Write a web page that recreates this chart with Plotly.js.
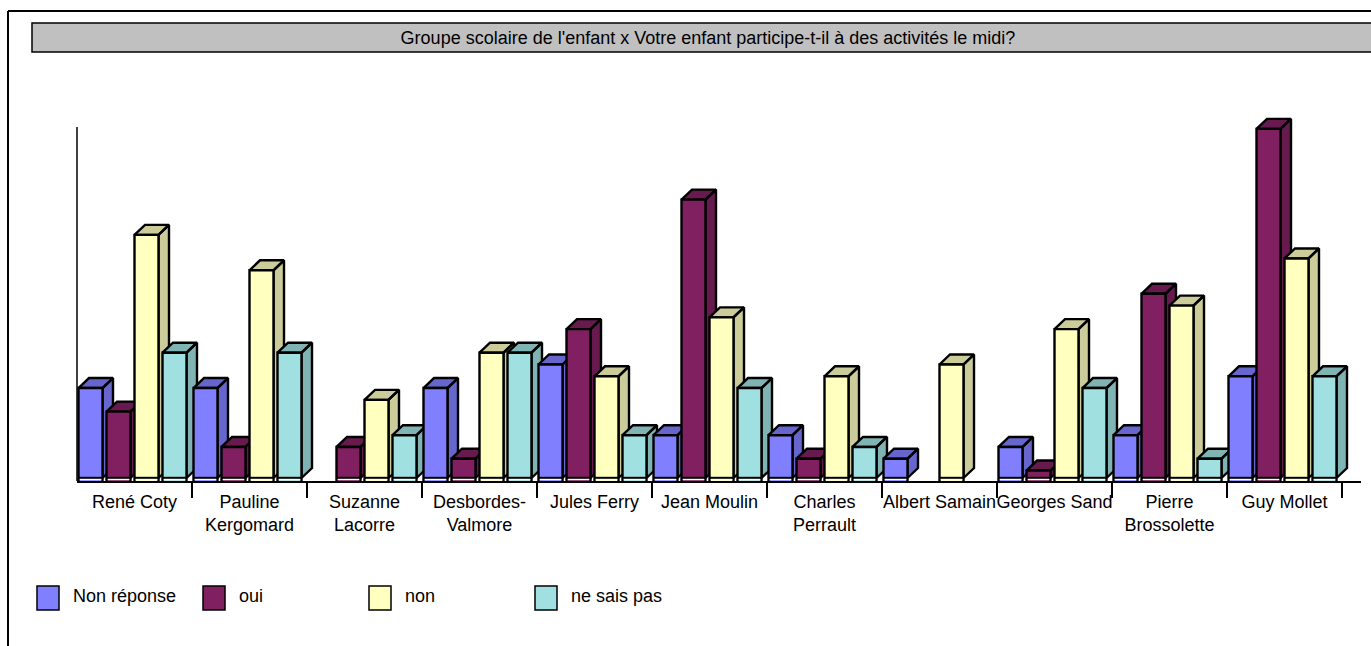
<!DOCTYPE html>
<html>
<head>
<meta charset="utf-8">
<script src="https://cdn.plot.ly/plotly-3.0.1.min.js"></script>
<style>html,body{margin:0;padding:0;background:#fff;overflow:hidden}#chart{width:1371px;height:646px}</style>
</head>
<body>
<div id="chart"></div>
<script>
var categories = ["René Coty","Pauline<br>Kergomard","Suzanne<br>Lacorre","Desbordes-<br>Valmore","Jules Ferry","Jean Moulin","Charles<br>Perrault","Albert Samain","Georges Sand","Pierre<br>Brossolette","Guy Mollet"];
var nonReponse = [8,8,null,8,10,4,4,2,3,4,9];
var oui = [6,3,3,2,13,24,2,null,1,16,30];
var non = [21,18,7,11,9,14,9,10,13,15,19];
var neSaisPas = [11,11,4,11,4,8,3,null,8,2,9];
var seriesNames = ["Non réponse","oui","non","ne sais pas"];
var seriesValues = [nonReponse,oui,non,neSaisPas];
var frontColors = ["#8080FF","#802060","#FFFFC0","#A0E0E0"];
var sideColors = ["#6666CC","#661A4D","#CCCC9A","#80B3B3"];
var titleText = "Groupe scolaire de l'enfant x Votre enfant participe-t-il à des activités le midi?";

var FONT = '"Liberation Sans", Arial, sans-serif';
var W = 1371, H = 646, L = 77, R = 1361, T = 90, B = 481;
var PXX = 115, PXY = 11.78, YMIN = 1.3 / PXY, YMAX = YMIN + (B - T) / PXY;
var barW = 24 / PXX, pitch = 28 / PXX, startOff = -0.5 + 1.5 / PXX;
var dx = 10.5 / PXX, dy = 10 / PXY, floorY = YMIN + 3 / PXY;
var STROKE = 2.4;
function px(x){return (x - L) / (R - L);}
function py(y){return (B - y) / (B - T);}

var backs = [], fronts = [], shapes = [], annotations = [];
categories.forEach(function(c, i){
  seriesValues.forEach(function(vals, k){
    var v = vals[i];
    if (v === null) return;
    var xl = i + startOff + k * pitch, xr = xl + barW;
    backs.push({
      type:'scatter', mode:'lines', fill:'toself', fillcolor:sideColors[k],
      line:{color:'#000',width:STROKE}, cliponaxis:false, hoverinfo:'skip', showlegend:false,
      x:[xr,xr+dx,xr+dx,xr,xr,null,xl,xl+dx,xr+dx,xr,xl],
      y:[floorY,floorY+dy,v+dy,v,floorY,null,v,v+dy,v+dy,v,v]
    });
    var mid = YMIN + 1.5 / PXY;
    shapes.push({type:'line',xref:'x',yref:'y',layer:'above',x0:xl,x1:xr,y0:floorY,y1:floorY,line:{color:'#000',width:STROKE}});
    shapes.push({type:'line',xref:'x',yref:'y',layer:'above',x0:xl+1.2/PXX,x1:xr-1.2/PXX,y0:mid,y1:mid,line:{color:'#fff',width:1.4}});
  });
});
seriesValues.forEach(function(vals, k){
  fronts.push({
    type:'bar', name:seriesNames[k], xaxis:'x2', yaxis:'y2',
    x:categories.map(function(c,i){return i;}), y:vals,
    width:barW, offset:startOff + k * pitch,
    marker:{color:frontColors[k],line:{color:'#000',width:STROKE}},
    showlegend:false, hovertemplate:seriesNames[k]+': %{y}<extra></extra>'
  });
});

// frame, title band, value axis line
shapes.push({type:'line',xref:'paper',yref:'paper',layer:'above',x0:px(8),x1:px(8),y0:py(11),y1:py(646),line:{color:'#000',width:2}});
shapes.push({type:'line',xref:'paper',yref:'paper',layer:'above',x0:px(8),x1:px(1371),y0:py(11),y1:py(11),line:{color:'#000',width:2}});
shapes.push({type:'rect',xref:'paper',yref:'paper',layer:'below',x0:px(32),x1:px(1375),y0:py(23),y1:py(52),fillcolor:'#C0C0C0',line:{color:'#000',width:1.5}});
shapes.push({type:'line',xref:'paper',yref:'paper',layer:'below',x0:px(77),x1:px(77),y0:py(127),y1:py(481),line:{color:'#000',width:1.5}});
// legend
seriesNames.forEach(function(n,k){
  var x0 = 37 + 166 * k;
  shapes.push({type:'rect',xref:'paper',yref:'paper',layer:'above',x0:px(x0),x1:px(x0+22),y0:py(586),y1:py(610),fillcolor:frontColors[k],line:{color:'#000',width:1.5}});
  annotations.push({xref:'paper',yref:'paper',x:px(x0+34),y:py(596),xanchor:'left',yanchor:'middle',showarrow:false,text:n,font:{family:FONT,size:18,color:'#000'}});
});

var tickVals = categories.map(function(c,i){return i;});
var xRange = [-0.5, -0.5 + (R - L) / PXX];
var layout = {
  width:W, height:H, autosize:false, showlegend:false,
  paper_bgcolor:'#fff', plot_bgcolor:'#fff',
  margin:{l:L, r:W-R, t:T, b:H-B, pad:0},
  barmode:'overlay',
  title:{text:titleText, xref:'container', yref:'container', x:708/W, xanchor:'center', y:1-38/H, yanchor:'middle', font:{family:FONT,size:18,color:'#000'}},
  xaxis:{range:xRange, showgrid:false, zeroline:false, showline:true, linecolor:'#000', linewidth:2,
    tickmode:'array', tickvals:tickVals, ticktext:categories, ticks:'', ticklabelstandoff:3,
    tickfont:{family:FONT,size:18,color:'#000'}, tickangle:0, automargin:false,
    minor:{tickmode:'array', tickvals:tickVals.map(function(i){return i+0.5;}), ticks:'outside', ticklen:15, tickwidth:1.5, tickcolor:'#000', showgrid:false}},
  yaxis:{range:[YMIN,YMAX], showgrid:false, zeroline:false, showline:false, showticklabels:false, ticks:''},
  xaxis2:{range:xRange, overlaying:'x', visible:false, anchor:'y2'},
  yaxis2:{range:[YMIN,YMAX], overlaying:'y', visible:false, anchor:'x2'},
  shapes:shapes, annotations:annotations
};
Plotly.newPlot('chart', backs.concat(fronts), layout, {staticPlot:true, displayModeBar:false});
</script>
</body>
</html>
